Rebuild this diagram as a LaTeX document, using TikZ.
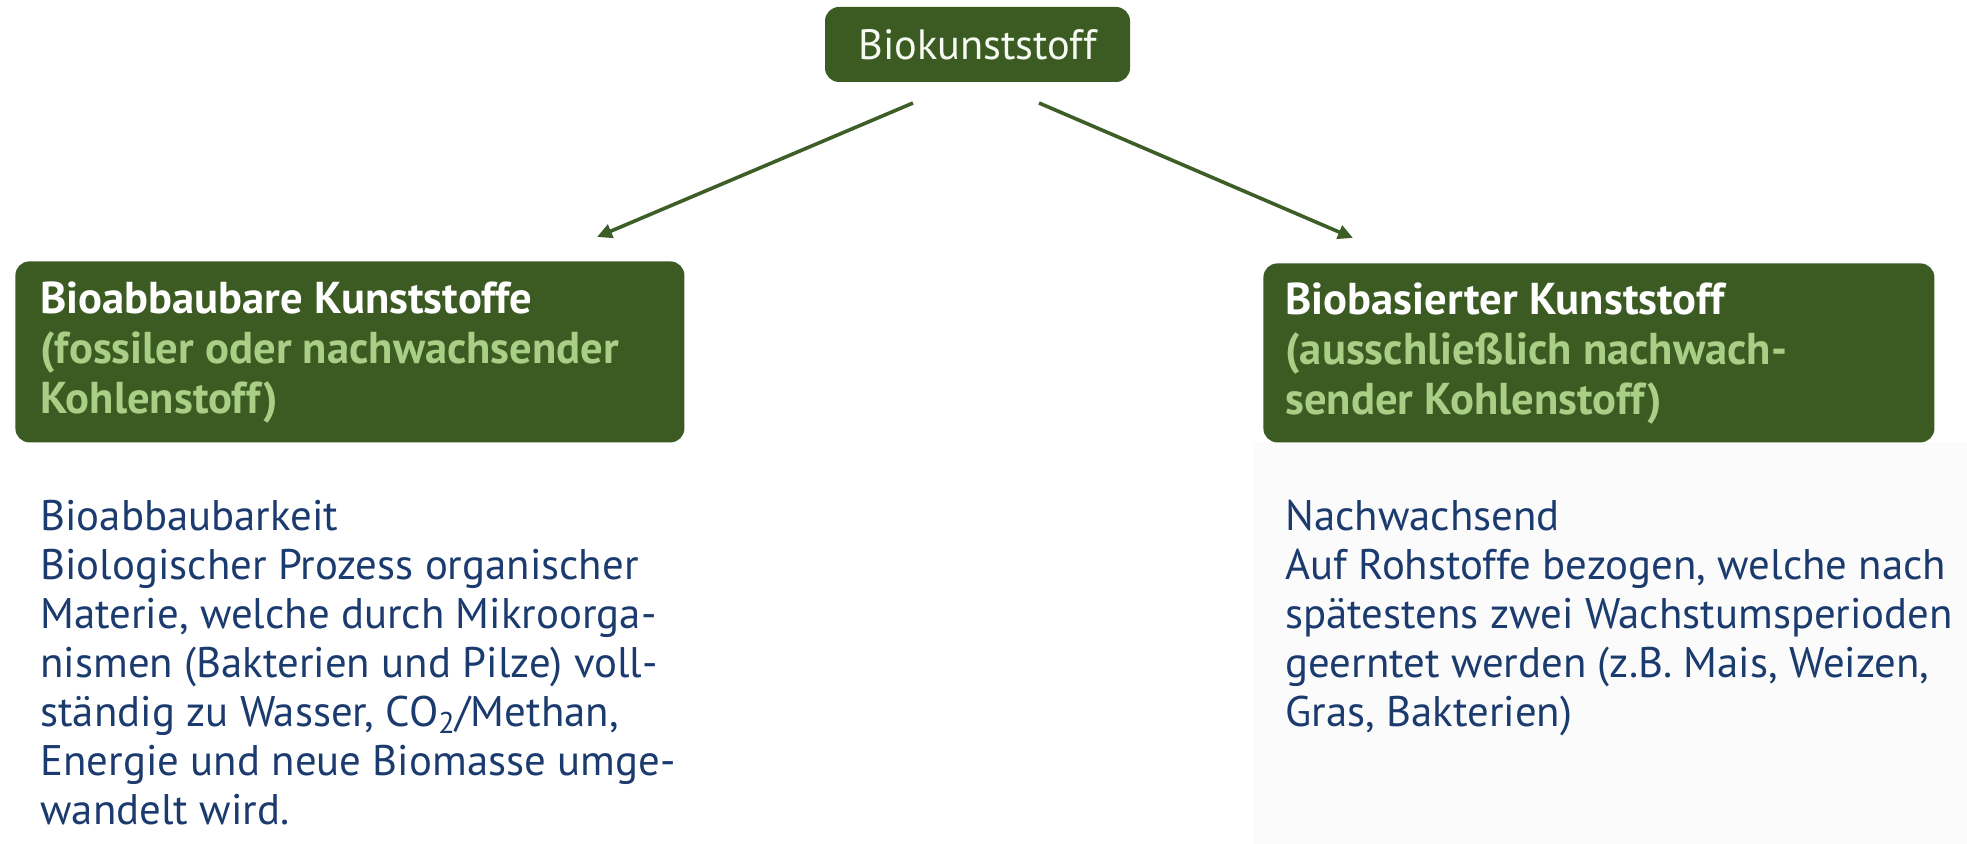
\documentclass[tikz,border=0pt]{standalone}
\usepackage{fontspec}
\setmainfont{PT Sans}
\usetikzlibrary{arrows.meta}
\definecolor{boxgreen}{HTML}{3B5B23}
\definecolor{lightgreen}{HTML}{A9CF86}
\definecolor{textblue}{HTML}{1B3B6F}
\definecolor{arrowgreen}{HTML}{3D5E27}
\definecolor{paleback}{HTML}{FBFBFB}
\tikzset{
  greenbox/.style={fill=boxgreen, rounded corners=7pt, inner sep=0pt, text=white},
  headtext/.style={font=\fontsize{22.3}{25}\selectfont\bfseries, align=left, inner sep=0pt, anchor=west},
  bodytext/.style={font=\fontsize{21.4}{24.5}\selectfont, text=textblue, align=left, inner sep=0pt, anchor=north west},
  arr/.style={draw=arrowgreen, line width=1.8pt, -{Triangle[length=7.5pt,width=7pt]}}
}
\begin{document}
\begin{tikzpicture}[x=0.5pt,y=-0.5pt]
\useasboundingbox (0,0) rectangle (1967,844);
\fill[paleback] (1253,442) rectangle (1967,844);
% top box
\node[greenbox, minimum width=152.5pt, minimum height=37.5pt,
  font=\fontsize{21.2}{25}\selectfont, text=white!90!lightgreen] (top) at (977.5,44.5) {Biokunststoff};
% left box
\node[greenbox, anchor=north west, minimum width=334.5pt, minimum height=90.5pt] (lbox) at (15,261) {};
\node[headtext] (lhead) at (40,353) {\color{white}Bioabbaubare Kunststoffe\\ \color{lightgreen}(fossiler oder nachwachsender\\ \color{lightgreen}Kohlenstoff)};
% right box
\node[greenbox, anchor=north west, minimum width=335.5pt, minimum height=89.5pt] (rbox) at (1263,263) {};
\node[headtext] (rhead) at (1285,354) {\color{white}Biobasierter Kunststoff\\ \color{lightgreen}(ausschließlich nachwach-\\ \color{lightgreen}sender Kohlenstoff)};
% body texts
\node[bodytext] (ltext) at (40,500) {Bioabbaubarkeit\\Biologischer Prozess organischer\\Materie, welche durch Mikroorga-\\nismen (Bakterien und Pilze) voll-\\ständig zu Wasser, CO\textsubscript{2}/Methan,\\Energie und neue Biomasse umge-\\wandelt wird.};
\node[bodytext] (rtext) at (1285,500) {Nachwachsend\\Auf Rohstoffe bezogen, welche nach\\spätestens zwei Wachstumsperioden\\geerntet werden (z.B. Mais, Weizen,\\Gras, Bakterien)};
% arrows
\coordinate (ls) at (913,103);
\coordinate (le) at (597,237);
\coordinate (rs) at (1039,103);
\coordinate (re) at (1353,238);
\draw[arr] (ls) -- (le);
\draw[arr] (rs) -- (re);
\end{tikzpicture}
\end{document}
